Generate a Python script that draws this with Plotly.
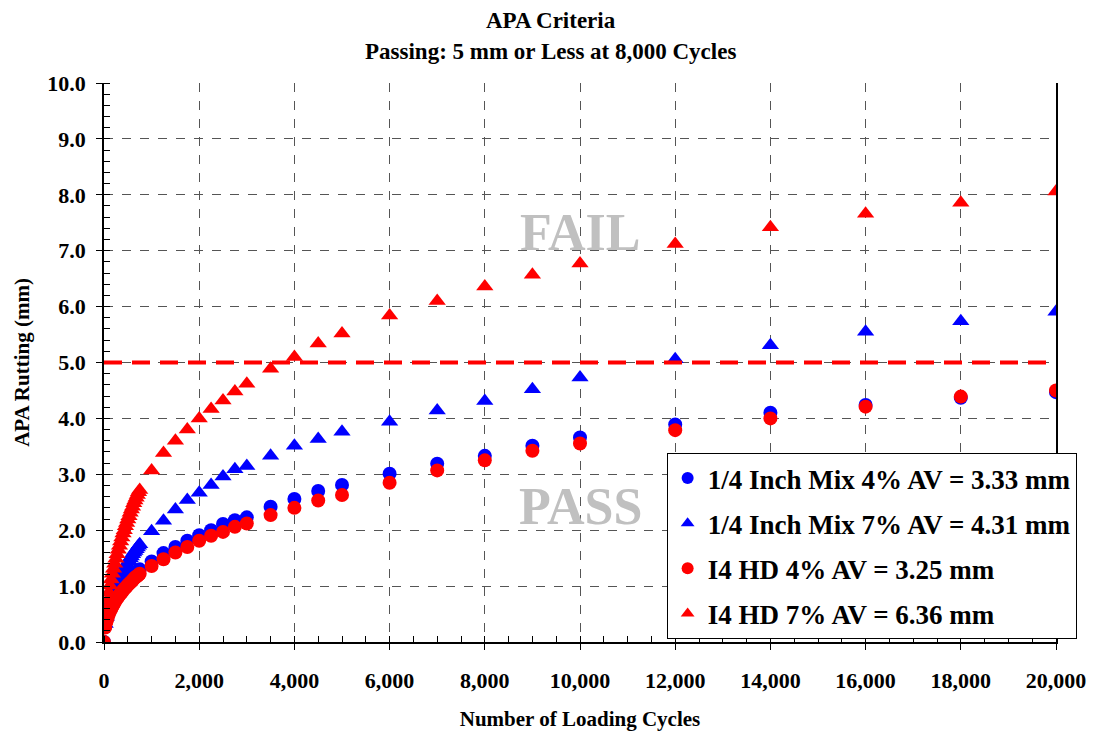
import plotly.graph_objects as go

cycles = [0, 25, 50, 75, 100, 125, 150, 175, 200, 225, 250, 275, 300, 325, 350, 375,
          400, 425, 450, 475, 500, 525, 550, 575, 600, 625, 650, 675, 700, 725, 750,
          1000, 1250, 1500, 1750, 2000, 2250, 2500, 2750, 3000, 3500, 4000, 4500, 5000,
          6000, 7000, 8000, 9000, 10000, 12000, 14000, 16000, 18000, 20000]

quarter_4 = [0.00, 0.28, 0.38, 0.46, 0.52, 0.58, 0.63, 0.67, 0.72, 0.76, 0.80, 0.83, 0.86, 0.90,
             0.93, 0.95, 0.98, 1.01, 1.03, 1.06, 1.09, 1.11, 1.13, 1.15, 1.17, 1.20, 1.22, 1.24,
             1.26, 1.28, 1.30,
             1.44, 1.59, 1.70, 1.81, 1.91, 2.00, 2.11, 2.18, 2.23, 2.42, 2.56, 2.70, 2.81,
             3.01, 3.19, 3.33, 3.51, 3.66, 3.89, 4.10, 4.24, 4.37, 4.47]

quarter_7 = [0.00, 0.32, 0.45, 0.55, 0.64, 0.71, 0.78, 0.85, 0.90, 0.96, 1.01, 1.06, 1.11, 1.15,
             1.20, 1.24, 1.28, 1.32, 1.36, 1.39, 1.43, 1.46, 1.50, 1.53, 1.57, 1.60, 1.63, 1.66,
             1.69, 1.72, 1.75,
             1.98, 2.17, 2.37, 2.54, 2.67, 2.81, 2.96, 3.09, 3.15, 3.33, 3.51, 3.63, 3.76,
             3.94, 4.14, 4.31, 4.52, 4.73, 5.06, 5.31, 5.55, 5.74, 5.91]

i4hd_4 = [0.00, 0.26, 0.36, 0.43, 0.49, 0.55, 0.59, 0.63, 0.67, 0.71, 0.75, 0.78, 0.81, 0.84,
          0.87, 0.89, 0.92, 0.95, 0.97, 0.99, 1.02, 1.04, 1.06, 1.08, 1.10, 1.13, 1.15, 1.17,
          1.18, 1.20, 1.22,
          1.36, 1.48, 1.60, 1.70, 1.81, 1.90, 1.97, 2.06, 2.12, 2.27, 2.40, 2.53, 2.63,
          2.85, 3.07, 3.25, 3.42, 3.55, 3.79, 4.00, 4.21, 4.39, 4.50]

i4hd_7 = [0.00, 0.42, 0.61, 0.76, 0.89, 1.01, 1.12, 1.22, 1.31, 1.40, 1.49, 1.57, 1.65, 1.72,
          1.80, 1.87, 1.94, 2.00, 2.07, 2.13, 2.19, 2.25, 2.31, 2.37, 2.42, 2.48, 2.53, 2.58,
          2.63, 2.68, 2.72,
          3.07, 3.38, 3.60, 3.80, 4.00, 4.17, 4.32, 4.48, 4.62, 4.89, 5.10, 5.34, 5.52,
          5.84, 6.10, 6.36, 6.57, 6.77, 7.12, 7.42, 7.66, 7.86, 8.06]

series_names = ["1/4 Inch Mix 4% AV = 3.33 mm", "1/4 Inch Mix 7% AV = 4.31 mm",
                "I4 HD 4% AV = 3.25 mm", "I4 HD 7% AV = 6.36 mm"]
series_values = [quarter_4, quarter_7, i4hd_4, i4hd_7]
series_colors = ["#0000ff", "#0000ff", "#ff0000", "#ff0000"]
series_symbols = ["circle", "triangle-up", "circle", "triangle-up"]

title_lines = ["APA Criteria", "Passing: 5 mm or Less at 8,000 Cycles"]
criterion_mm = 5.0
x_ticks = list(range(0, 20001, 2000))
y_ticks = [i * 1.0 for i in range(0, 11)]

FONT = "Liberation Serif"

fig = go.Figure()
for name, vals, col, sym in zip(series_names, series_values, series_colors, series_symbols):
    fig.add_trace(go.Scatter(
        x=cycles, y=vals, mode="markers", name=name, legendgroup=name,
        marker=dict(color=col, symbol=sym, size=14 if sym == "circle" else 15,
                    line=dict(width=0)),
    ))

fig.add_shape(type="line", xref="x", yref="y", x0=0, x1=20000, y0=criterion_mm, y1=criterion_mm,
              line=dict(color="#ff0000", width=4, dash="18px,10px"), layer="above")

fig.add_annotation(x=10000, y=7.32, text="<b>FAIL</b>", showarrow=False,
                   font=dict(family=FONT, size=52, color="#c0c0c0"))
fig.add_annotation(x=10000, y=2.42, text="<b>PASS</b>", showarrow=False,
                   font=dict(family=FONT, size=52, color="#c0c0c0"))

# title lines (centered on the page)
fig.add_annotation(xref="paper", yref="paper", x=0.4695, y=1.1127, text="<b>%s</b>" % title_lines[0],
                   showarrow=False, xanchor="center", yanchor="middle", borderpad=0,
                   font=dict(family=FONT, size=23, color="black"))
fig.add_annotation(xref="paper", yref="paper", x=0.4695, y=1.0572, text="<b>%s</b>" % title_lines[1],
                   showarrow=False, xanchor="center", yanchor="middle", borderpad=0,
                   font=dict(family=FONT, size=23, color="black"))

fig.update_layout(
    width=1102, height=735,
    margin=dict(l=96, r=54, t=75, b=101, autoexpand=False),
    paper_bgcolor="white", plot_bgcolor="white",
    font=dict(family=FONT, color="black"),
    showlegend=True,
    legend=dict(x=0.591, xanchor="left", y=0.338, yanchor="top",
                bgcolor="white", bordercolor="black", borderwidth=1,
                font=dict(family=FONT, size=27, color="black", weight="bold"),
                traceorder="grouped", tracegroupgap=7, itemsizing="constant"),
)

fig.update_xaxes(
    range=[0, 20000], tickvals=x_ticks, tickformat=",d", automargin=False,
    showgrid=True, gridcolor="#555555", griddash="dash", gridwidth=1,
    showline=True, linecolor="black", linewidth=1.5,
    ticks="outside", ticklen=6, tickcolor="black",
    minor=dict(dtick=500, ticks="inside", ticklen=6, tickcolor="black", showgrid=False),
    tickfont=dict(family=FONT, size=22, color="black", weight="bold"),
    ticklabelstandoff=12,
    title=dict(text="<b>Number of Loading Cycles</b>", standoff=19,
               font=dict(family=FONT, size=21, color="black")),
    zeroline=False,
)
fig.update_yaxes(
    range=[0, 10], tickvals=y_ticks, tickformat=".1f", automargin=False,
    showgrid=True, gridcolor="#555555", griddash="dash", gridwidth=1,
    showline=True, linecolor="black", linewidth=1.5, mirror=True,
    ticks="outside", ticklen=6, tickcolor="black",
    minor=dict(dtick=0.2, ticks="inside", ticklen=6, tickcolor="black", showgrid=False),
    tickfont=dict(family=FONT, size=22, color="black", weight="bold"),
    ticklabelstandoff=6,
    title=dict(text="<b>APA Rutting (mm)</b>", standoff=12,
               font=dict(family=FONT, size=21, color="black")),
    zeroline=False,
)

fig.write_html("out.html")
